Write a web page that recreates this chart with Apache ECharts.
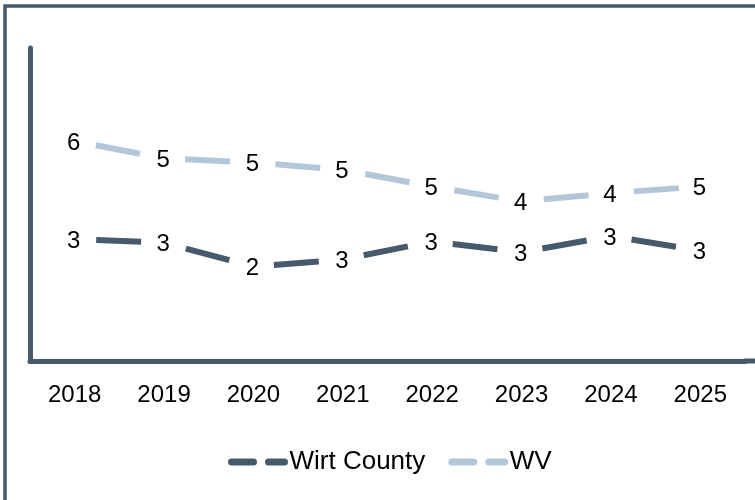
<!DOCTYPE html>
<html>
<head>
<meta charset="utf-8">
<script src="https://cdn.jsdelivr.net/npm/echarts@6/dist/echarts.min.js"></script>
<style>
html,body{margin:0;padding:0;background:#fff;}
#chart{width:755px;height:500px;}
</style>
</head>
<body>
<div id="chart"></div>
<script>
const years = ['2018','2019','2020','2021','2022','2023','2024','2025'];
const wirtCounty = [3.19, 3.10, 2.47, 2.66, 3.13, 2.85, 3.27, 2.89];
const wv = [5.76, 5.31, 5.20, 5.01, 4.57, 4.18, 4.40, 4.57];
const seriesNames = ['Wirt County', 'WV'];

const dark = '#475a6b';
const light = '#b4c7d9';
const font = '"Liberation Sans", Arial, sans-serif';

const chart = echarts.init(document.getElementById('chart'), null, {renderer: 'canvas'});

function makeSeries(name, data, color) {
  return {
    name: name,
    type: 'line',
    data: data,
    symbol: 'circle',
    symbolSize: 1,
    showSymbol: true,
    itemStyle: {color: 'rgba(0,0,0,0)', borderWidth: 0},
    lineStyle: {color: color, width: 6, type: [45, 45.5], dashOffset: 69, cap: 'butt'},
    label: {
      show: true,
      position: 'inside',
      offset: [-1, 2],
      color: '#000',
      fontFamily: font,
      fontSize: 24,
      formatter: p => String(Math.round(p.value))
    },
    emphasis: {disabled: true},
    animation: false
  };
}

chart.setOption({
  animation: false,
  backgroundColor: '#fff',
  grid: {left: 30, right: 10, top: 48, bottom: 139, containLabel: false},
  legend: {
    left: 223,
    top: 449,
    padding: 0,
    itemWidth: 58,
    itemHeight: 8,
    itemGap: 18,
    textStyle: {color: '#000', fontFamily: font, fontSize: 26},
    data: [
      {name: seriesNames[0], lineStyle: {color: dark, width: 7, type: [22, 15], cap: 'round'}},
      {name: seriesNames[1], lineStyle: {color: light, width: 7, type: [22, 15], cap: 'round'}}
    ]
  },
  xAxis: {
    type: 'category',
    data: years,
    boundaryGap: true,
    axisLine: {show: true, lineStyle: {color: dark, width: 5}},
    axisTick: {show: false},
    axisLabel: {color: '#000', fontFamily: font, fontSize: 24, margin: 22}
  },
  yAxis: {
    type: 'value',
    min: 0,
    max: 8.2,
    axisLine: {show: true, lineStyle: {color: dark, width: 5}},
    axisTick: {show: false},
    axisLabel: {show: false},
    splitLine: {show: false}
  },
  graphic: [
    {type: 'rect', silent: true, shape: {x: 5, y: 6, width: 820, height: 600},
     style: {fill: 'none', stroke: dark, lineWidth: 3.5}},
    {type: 'line', silent: true, shape: {x1: 744, y1: 361, x2: 755, y2: 361},
     style: {stroke: dark, lineWidth: 5}}
  ],
  series: [
    makeSeries(seriesNames[0], wirtCounty, dark),
    makeSeries(seriesNames[1], wv, light)
  ]
});
</script>
</body>
</html>
